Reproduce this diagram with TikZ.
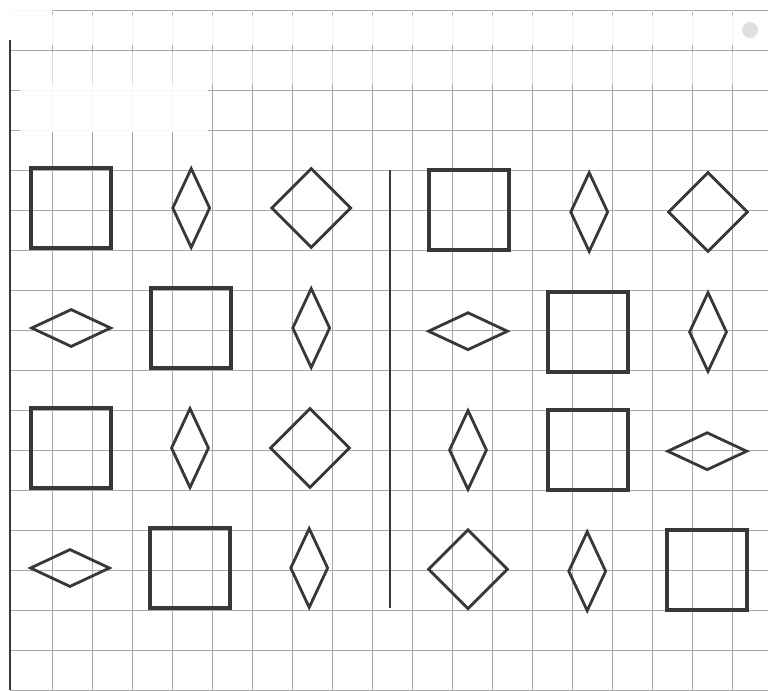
\documentclass[tikz,border=0pt]{standalone}
\usetikzlibrary{shapes.geometric}
\definecolor{ink}{HTML}{383838}
\definecolor{gridgray}{HTML}{A8A8A8}
\tikzset{
  gridline/.style = {gridgray, line width=0.7pt},
  frameline/.style = {ink, line width=2.1pt},
  sqbox/.style    = {draw=ink, line width=2.6pt, minimum size=2cm,
                     inner sep=0pt},
  tallgem/.style  = {diamond, draw=ink, line width=2pt,
                     minimum width=0.95cm, minimum height=2cm, inner sep=0pt},
  flatgem/.style  = {diamond, draw=ink, line width=2pt,
                     minimum width=2cm, minimum height=0.95cm, inner sep=0pt},
  widegem/.style  = {diamond, draw=ink, line width=2pt,
                     minimum size=2cm, inner sep=0pt},
}

\begin{document}
\begin{tikzpicture}[x=1cm, y=-1cm]
    \useasboundingbox (0,0) rectangle (19.2,17.25);
    \fill[white] (0,0) rectangle (19.2,17.25);

    % --- squared paper ---
    \foreach \k in {1,...,18}
      \draw[gridline] (0.3+\k,0.3) -- (0.3+\k,17.25);
    \foreach \k in {0,...,17}
      \draw[gridline] (0.25,0.25+\k) -- (19.2,0.25+\k);

    % --- faded top of the page ---
    \fill[white, opacity=0.85] (0,0.38) rectangle (19.2,1.12);
    \fill[white, opacity=0.6] (0.4,1.3) rectangle (19.2,2.1);
    \fill[white, opacity=0.9] (0.5,2.1) rectangle (5.2,3.3);
    \fill[white, opacity=0.9] (0,0) rectangle (1.3,0.28);
    \fill[black!12] (18.75,0.75) circle (0.2);

    % --- margin and divider ---
    \draw[frameline] (0.25,1.0) -- (0.25,17.25);
    \draw[frameline] (9.75,4.25) -- (9.75,15.2);

    % --- left half ---
    \foreach \kind/\cx/\cy/\nm in {
        sqbox/1.78/5.2/la1, tallgem/4.78/5.2/la2, widegem/7.78/5.2/la3,
        flatgem/1.78/8.2/lb1, sqbox/4.78/8.2/lb2, tallgem/7.78/8.2/lb3,
        sqbox/1.78/11.2/lc1, tallgem/4.75/11.2/lc2, widegem/7.75/11.2/lc3,
        flatgem/1.75/14.2/ld1, sqbox/4.75/14.2/ld2, tallgem/7.73/14.2/ld3}
      \node[\kind] (\nm) at (\cx,\cy) {};

    % --- right half ---
    \foreach \kind/\cx/\cy/\nm in {
        sqbox/11.73/5.25/ra1, tallgem/14.73/5.3/ra2, widegem/17.7/5.3/ra3,
        flatgem/11.7/8.28/rb1, sqbox/14.7/8.3/rb2, tallgem/17.7/8.3/rb3,
        tallgem/11.7/11.25/rc1, sqbox/14.7/11.25/rc2, flatgem/17.68/11.28/rc3,
        widegem/11.7/14.23/rd1, tallgem/14.68/14.28/rd2, sqbox/17.68/14.25/rd3}
      \node[\kind] (\nm) at (\cx,\cy) {};
\end{tikzpicture}
\end{document}
